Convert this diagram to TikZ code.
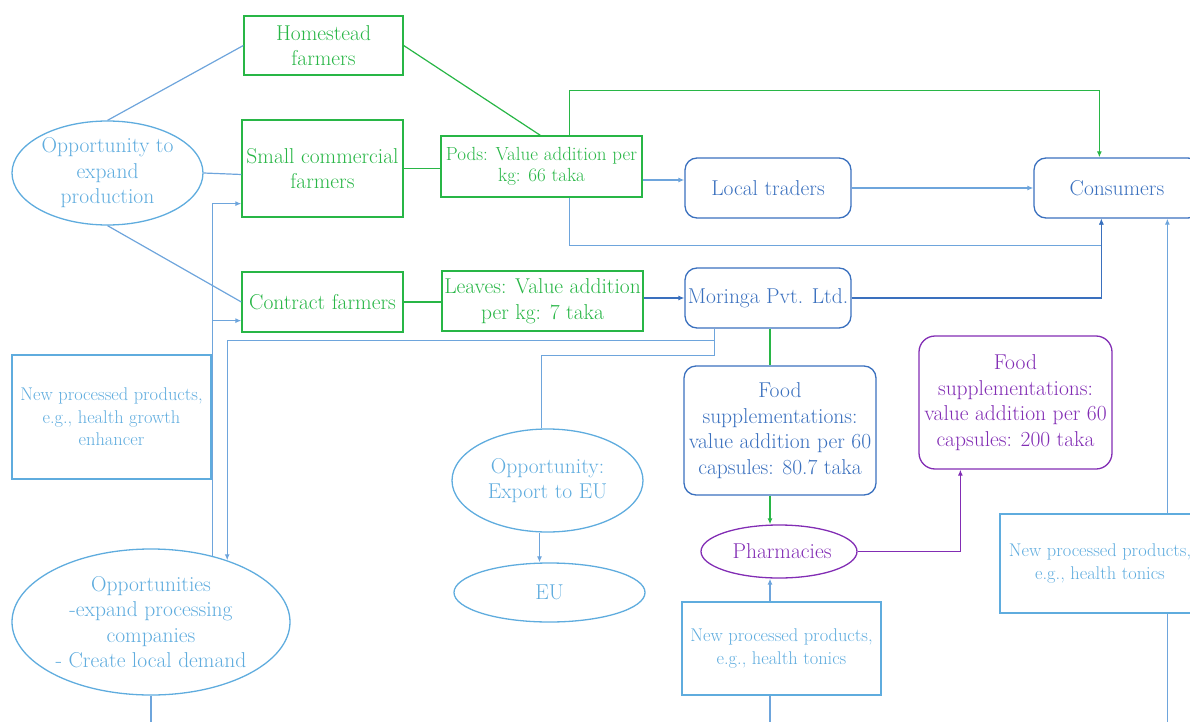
\documentclass[tikz,border=0pt]{standalone}
\usepackage{fontspec}
\usetikzlibrary{shapes.geometric,arrows.meta,calc}
\definecolor{grn}{RGB}{40,182,70}
\definecolor{sky}{RGB}{95,172,222}
\definecolor{dblue}{RGB}{58,112,190}
\definecolor{purp}{RGB}{130,45,180}
\definecolor{lline}{RGB}{110,165,220}
\begin{document}
\begin{tikzpicture}[x=1pt,y=-1pt,
  big/.style={font=\fontsize{21.5}{25.5}\selectfont},
  sm/.style={font=\fontsize{18.4}{22.5}\selectfont},
  pod/.style={font=\fontsize{19}{21.5}\selectfont},
  gbox/.style={rectangle,draw=grn,line width=1.3pt,text=grn,align=center,inner sep=0pt},
  rbox/.style={rectangle,draw=dblue,rounded corners=12pt,line width=1.3pt,text=dblue,align=center,inner sep=0pt},
  pbox/.style={rectangle,draw=purp,rounded corners=16pt,line width=1.3pt,text=purp,align=center,inner sep=0pt},
  sbox/.style={rectangle,draw=sky,line width=1.3pt,text=sky,align=center,inner sep=0pt},
  sell/.style={ellipse,draw=sky,line width=1.3pt,text=sky,align=center,inner sep=0pt},
  tip/.tip={Latex[length=6pt,width=5pt]},
  lb/.style={draw=lline,line width=1.2pt},
  db/.style={draw=dblue,line width=1.1pt},
  gl/.style={draw=grn,line width=1.2pt},
  pl/.style={draw=purp,line width=1.2pt}]
\useasboundingbox (0,0) rectangle (1190,722);
\clip (0,0) rectangle (1190,722);
\coordinate (bot) at (0,722);

% nodes
\node[gbox,big,minimum width=159,minimum height=59] (home) at (323.5,45.5) {Homestead\\farmers};
\node[gbox,big,minimum width=161,minimum height=97] (small) at (322.5,168.5) {Small commercial\\farmers};
\node[gbox,big,minimum width=161,minimum height=60] (contract) at (322.5,302) {Contract farmers};
\node[gbox,pod,minimum width=201,minimum height=61] (pods) at (541.5,166.5) {Pods: Value addition per\\kg: 66 taka};
\node[gbox,big,minimum width=201,minimum height=60] (leaves) at (542.5,301) {Leaves: Value addition\\per kg: 7 taka};
\node[rbox,big,minimum width=166,minimum height=60] (lt) at (768,188) {Local traders};
\node[rbox,big,minimum width=166,minimum height=60] (cons) at (1117,188) {Consumers};
\node[rbox,big,minimum width=166,minimum height=60] (mor) at (768,298) {Moringa Pvt. Ltd.};
\node[rbox,big,minimum width=192,minimum height=129] (fs) at (780,430.5) {Food\\supplementations:\\value addition per 60\\capsules: 80.7 taka};
\node[pbox,big,minimum width=193,minimum height=133] (pf) at (1015.5,402.5) {Food\\supplementations:\\value addition per 60\\capsules: 200 taka};
\node[ellipse,draw=purp,line width=1.3pt,text=purp,inner sep=0pt,big,minimum width=156,minimum height=53] (ph) at (779,551.5) {\hspace*{6pt}Pharmacies};
\node[sell,big,minimum width=191,minimum height=104] (opp1) at (107.5,173) {Opportunity to\\expand\\production};
\node[sell,big,minimum width=278,minimum height=146] (opps) at (151,622) {Opportunities\\-expand processing\\companies\\- Create local demand};
\node[sell,big,minimum width=191,minimum height=103] (exp) at (547.5,480.5) {Opportunity:\\Export to EU};
\node[sell,big,minimum width=191,minimum height=59] (eu) at (549.5,592.5) {EU};
\node[sbox,sm,minimum width=199,minimum height=124] (nl) at (111.5,417) {New processed products,\\e.g., health growth\\enhancer};
\node[sbox,sm,minimum width=199,minimum height=93] (nb) at (781.5,648.5) {New processed products,\\e.g., health tonics};
\node[sbox,sm,minimum width=200,minimum height=99] (nr) at (1100,563.5) {New processed products,\\e.g., health tonics};

% helper coordinates
\coordinate (c203) at ($(small.south west)+(0,-14)$);
\coordinate (c320) at ($(contract.south west)+(0,-12)$);
\coordinate (mb) at ($(mor.south west)+(30,0)$);
\coordinate (ea) at ($(exp.south)+(-8,0)$);
\coordinate (gx) at ($(fs.north)+(-10,0)$);
\coordinate (px) at ($(pf.south west)+(42,0)$);
\coordinate (rx) at ($(nr.north west)+(168,0)$);
\coordinate (pt) at ($(pods.north west)+(129,0)$);
\coordinate (pa) at ($(pods.east)+(0,13.5)$);
\coordinate (cx) at ($(cons.south west)+(68,0)$);
\coordinate (cn) at ($(cons.north west)+(66,0)$);
\coordinate (ht) at ($(pods.north west)+(100,0)$);
\coordinate (sw) at ($(small.west)+(0,6)$);

% blue connectors (left)
\draw[lb] (opp1.north) -- (home.west);
\draw[lb] (opp1.east) -- (sw);
\draw[lb] (opp1.south) -- (contract.west);
\draw[lb,-tip] (opps.47.7) |- (c203);
\draw[lb,-tip] (opps.47.7 |- c320) -- (c320);
\draw[lb,-tip] (mb) -- ++(0,12) -| (opps.39);
\draw[lb] (mb) -- ++(0,27) -| ($(exp.north)+(-6,0)$);
\draw[lb,-tip] (ea) -- (ea |- eu.north);
\draw[lb] (opps.south) -- (opps.south |- bot);

% green connectors
\draw[gl] (home.east) -- (ht);
\draw[gl] (small.east) -- (small.east -| pods.west);
\draw[gl] (contract.east) -- (contract.east -| leaves.west);
\draw[gl,-tip] (pt) -- ++(0,-45) -| (cn);
\draw[gl] (gx |- mor.south) -- (gx);
\draw[gl,-tip] (gx |- fs.south) -- (gx |- ph.north);

% right side
\draw[lb,-tip] (pa) -- (pa -| lt.west);
\draw[lb,-tip] (pt |- pods.south) -- ++(0,48) -| (cx);
\draw[lb,-tip] (lt.east) -- (cons.west);
\draw[db,-tip] (mor.east) -| (cx);
\draw[db,-tip] (leaves.east |- mor.west) -- (mor.west);
\draw[pl,-tip] (ph.east) -| (px);
\draw[lb,-tip] (gx |- nb.north) -- (gx |- ph.south);
\draw[lb] (gx |- nb.south) -- (gx |- bot);
\draw[lb,-tip] (rx) -- (rx |- cons.south);
\draw[lb] (rx |- nr.south) -- (rx |- bot);
\end{tikzpicture}
\end{document}
